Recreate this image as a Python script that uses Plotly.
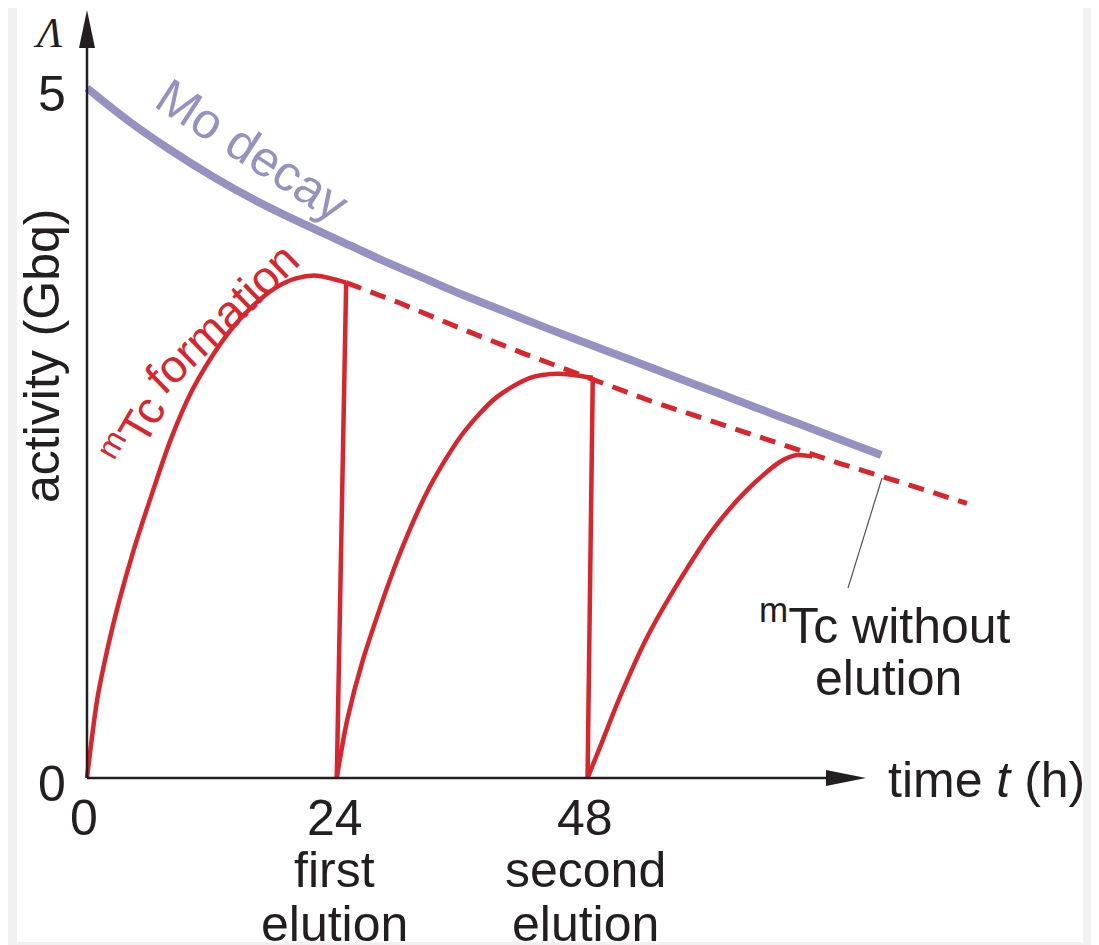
import plotly.graph_objects as go

#----- DATA --------------------------------------------------------------------
# Mo-99 activity (GBq) against time (h)
mo_t = [0, 4, 8, 12, 16, 20, 24, 28, 32, 36, 40, 44, 48, 52, 56, 60, 64, 68, 72, 76]
mo_a = [5.00, 4.76, 4.55, 4.36, 4.19, 4.04, 3.90, 3.76, 3.63, 3.50,
        3.38, 3.26, 3.145, 3.03, 2.915, 2.80, 2.685, 2.57, 2.455, 2.34]

# mTc build-up after each elution
tc1_t = [0, 1, 2, 3, 4.5, 6, 8, 10, 12, 14, 16, 18, 20, 22, 24.8]
tc1_a = [0, 0.58, 0.95, 1.26, 1.66, 2.01, 2.45, 2.80, 3.06, 3.27, 3.43, 3.55, 3.62, 3.64, 3.59]
tc2_t = [23.9, 24.9, 26.4, 29.7, 32.8, 36.0, 39.2, 42.4, 45.0, 48.4]
tc2_a = [0, 0.42, 0.855, 1.58, 2.11, 2.50, 2.76, 2.90, 2.93, 2.90]
tc3_t = [47.9, 49.1, 51.0, 53.6, 56.7, 59.9, 63.2, 66.3, 67.9, 69.4]
tc3_a = [0, 0.225, 0.587, 1.02, 1.43, 1.80, 2.09, 2.29, 2.34, 2.33]

# mTc if it is not eluted
free_t = [24.8, 30, 36, 42, 48, 54, 60, 66, 72, 78, 84.2]
free_a = [3.59, 3.44, 3.25, 3.07, 2.90, 2.73, 2.58, 2.43, 2.28, 2.14, 1.99]

x_ticks = [0, 24, 48]
x_tick_labels = ['0', '24', '48']
x_tick_notes = [[], ['first', 'elution'], ['second', 'elution']]
y_ticks = [0, 5]
y_tick_labels = ['0', '5']

#----- STYLE -------------------------------------------------------------------
OFF = 8                          # page margin the browser puts round the figure
W, H = 1099 - OFF, 945 - OFF
X0_PX, PX_PER_H = 87, 10.45      # t = 0 sits at screen x 87
Y0_PX, PX_PER_GBQ = 778, 138     # activity 0 sits at screen y 778
mo_color = '#9591c1'
tc_color = '#d9252b'
ink = '#231f20'
font_family = 'Liberation Sans, Arial, sans-serif'
fsize = 50


def tx(px):
    return (px - X0_PX) / PX_PER_H


def ay(px):
    return (Y0_PX - px) / PX_PER_GBQ


#----- TRACES ------------------------------------------------------------------
fig = go.Figure()
fig.add_trace(go.Scatter(
    x=free_t, y=free_a, mode='lines',
    line=dict(color=tc_color, width=5, dash='16px,10px'),
))
fig.add_trace(go.Scatter(
    x=mo_t, y=mo_a, mode='lines',
    line=dict(color=mo_color, width=8, shape='spline'),
))
for rise_t, rise_a in [(tc1_t, tc1_a), (tc2_t, tc2_a), (tc3_t, tc3_a)]:
    fig.add_trace(go.Scatter(
        x=rise_t, y=rise_a, mode='lines',
        line=dict(color=tc_color, width=4.5, shape='spline', smoothing=0.8),
    ))
# elutions: the activity drops back to zero
for (a_t, a_a), (b_t, b_a) in [((tc1_t, tc1_a), (tc2_t, tc2_a)),
                               ((tc2_t, tc2_a), (tc3_t, tc3_a))]:
    fig.add_trace(go.Scatter(
        x=[a_t[-1], b_t[0]], y=[a_a[-1], b_a[0]], mode='lines',
        line=dict(color=tc_color, width=4.5),
    ))

#----- AXES (drawn by hand, with arrows) ---------------------------------------
shapes = [
    dict(type='rect', xref='paper', yref='paper',
         x0=(17 - OFF) / W, x1=(1083 - OFF) / W, y0=1 - (942 - OFF) / H, y1=1,
         fillcolor='white', line_width=0, layer='below'),
    dict(type='line', x0=0, y0=0, x1=tx(830), y1=0,
         line=dict(color=ink, width=2.5)),
    dict(type='line', x0=0, y0=0, x1=0, y1=ay(45),
         line=dict(color=ink, width=2.5)),
    dict(type='path',
         path=f'M {tx(826)},{ay(786)} L {tx(866)},0 L {tx(826)},{ay(770)} Z',
         fillcolor=ink, line_width=0),
    dict(type='path',
         path=f'M {tx(79)},{ay(48)} L 0,{ay(10)} L {tx(95)},{ay(48)} Z',
         fillcolor=ink, line_width=0),
    # leader to the dashed curve
    dict(type='line', x0=tx(882), y0=ay(478), x1=tx(848), y1=ay(588),
         line=dict(color='#555555', width=1.2)),
]

annotations = []


def label(text, x, y, color=ink, size=fsize, angle=0, xanchor='center',
          family=font_family):
    annotations.append(dict(
        text=text, x=x, y=y, xref='x', yref='y', showarrow=False,
        xanchor=xanchor, yanchor='middle', textangle=angle,
        font=dict(family=family, size=size, color=color),
    ))


for t, lab, notes in zip(x_ticks, x_tick_labels, x_tick_notes):
    label(lab, t - 0.3, ay(818))
    for i, note in enumerate(notes):
        label(note, t - 0.3, ay(870 + 54 * i))
for v, lab in zip(y_ticks, y_tick_labels):
    label(lab, tx(52), v - 0.04)

label('<i>Λ</i>', tx(48), ay(33), size=42,
      family='Liberation Serif, DejaVu Serif, serif')
label('time <i>t</i> (h)', tx(886), ay(780), xanchor='left')
label('activity (Gbq)', tx(42), ay(356), angle=-90)
label('Mo decay', tx(252), ay(150), color=mo_color, angle=33)
label('<sup>m</sup>Tc', tx(132), ay(430), color=tc_color, size=46, angle=-60)
label('formation', tx(222), ay(318), color=tc_color, size=46, angle=-44)
label('<sup>m</sup>Tc without', tx(885), ay(622))
label('elution', tx(888), ay(678))

fig.update_layout(
    width=W, height=H,
    margin=dict(l=0, r=0, t=0, b=0),
    paper_bgcolor='#f1f1f1',
    plot_bgcolor='rgba(0,0,0,0)',
    showlegend=False,
    xaxis=dict(range=[tx(OFF), tx(OFF + W)], visible=False, fixedrange=True),
    yaxis=dict(range=[ay(OFF + H), ay(OFF)], visible=False, fixedrange=True),
    shapes=shapes,
    annotations=annotations,
)
fig.write_html('out.html')
